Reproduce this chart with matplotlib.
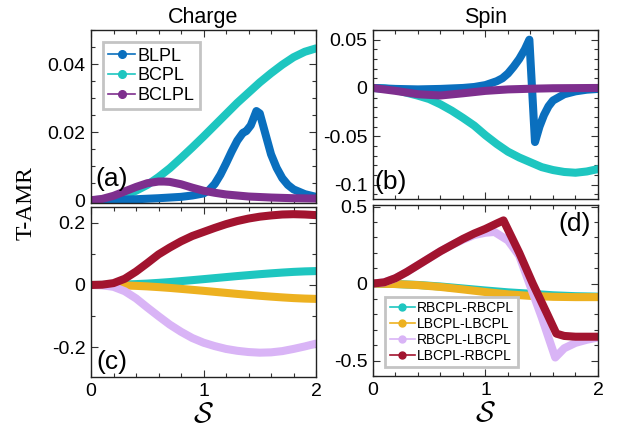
import numpy as np
import matplotlib
matplotlib.use("Agg")
import matplotlib.pyplot as plt
from matplotlib.lines import Line2D
from matplotlib.ticker import MultipleLocator, FixedLocator, FixedFormatter

plt.rcParams['font.family'] = ['Liberation Sans', 'DejaVu Sans']
plt.rcParams['axes.unicode_minus'] = False
plt.rcParams['mathtext.fontset'] = 'cm'

#########################################
# data
#########################################

# (a) charge
s_blpl_a = [0, 0.2, 0.4, 0.6, 0.8, 0.9, 1.0, 1.05, 1.1, 1.15, 1.2, 1.25, 1.3, 1.35, 1.38,
            1.42, 1.45, 1.47, 1.5, 1.55, 1.6, 1.65, 1.7, 1.75, 1.8, 1.9, 2.0]
blpl_a = [0, 0.0001, 0.0003, 0.0006, 0.0010, 0.0014, 0.002, 0.003, 0.0048, 0.0075, 0.0108,
          0.0143, 0.0175, 0.0198, 0.0203, 0.022, 0.0245, 0.0262, 0.0255, 0.0195, 0.0135,
          0.0095, 0.0065, 0.0045, 0.0032, 0.0018, 0.001]

s_bcpl_a = [0, 0.1, 0.2, 0.3, 0.4, 0.5, 0.6, 0.7, 0.8, 0.9, 1.0, 1.1, 1.2, 1.3, 1.4, 1.5,
            1.6, 1.7, 1.8, 1.9, 2.0]
bcpl_a = [0, 0.0002, 0.0007, 0.0015, 0.0028, 0.0045, 0.0068, 0.0094, 0.0124, 0.0155, 0.0187,
          0.022, 0.0253, 0.0286, 0.0316, 0.0346, 0.0373, 0.0398, 0.042, 0.0436, 0.0446]

s_bclpl_a = [0, 0.1, 0.2, 0.3, 0.4, 0.5, 0.6, 0.65, 0.7, 0.8, 0.9, 1.0, 1.1, 1.2, 1.4, 1.6,
             1.8, 2.0]
bclpl_a = [0, 0.0004, 0.0013, 0.0026, 0.0039, 0.0050, 0.0055, 0.0055, 0.0054, 0.0047, 0.0037,
           0.0028, 0.0022, 0.0017, 0.0011, 0.0008, 0.0006, 0.0005]

# (b) spin
s_blpl_b = [0, 0.2, 0.4, 0.6, 0.8, 0.9, 1.0, 1.1, 1.15, 1.2, 1.25, 1.3, 1.35, 1.39, 1.44,
            1.48, 1.52, 1.56, 1.6, 1.7, 1.8, 1.9, 2.0]
blpl_b = [0, -0.001, -0.0015, -0.001, 0.0, 0.001, 0.003, 0.007, 0.010, 0.015, 0.022, 0.030,
          0.040, 0.050, -0.056, -0.040, -0.028, -0.019, -0.013, -0.0065, -0.0035, -0.0018, -0.001]

s_bcpl_b = [0, 0.1, 0.2, 0.3, 0.4, 0.5, 0.6, 0.7, 0.8, 0.9, 1.0, 1.1, 1.2, 1.3, 1.4, 1.5,
            1.6, 1.7, 1.8, 1.9, 2.0]
bcpl_b = [0, -0.0005, -0.002, -0.005, -0.008, -0.0115, -0.017, -0.0235, -0.031, -0.039,
          -0.049, -0.058, -0.066, -0.072, -0.077, -0.082, -0.085, -0.087, -0.0878, -0.0865, -0.084]

s_bclpl_b = [0, 0.2, 0.4, 0.6, 0.8, 1.0, 1.2, 1.4, 1.6, 2.0]
bclpl_b = [0, -0.003, -0.0065, -0.0078, -0.0055, -0.003, -0.0015, -0.0008, -0.0003, 0]

# (c) charge, circular pairs
s_c = [0, 0.1, 0.2, 0.3, 0.4, 0.5, 0.6, 0.7, 0.8, 0.9, 1.0, 1.1, 1.2, 1.3, 1.4, 1.5, 1.6,
       1.7, 1.8, 1.9, 2.0]
rr_c = [0, 0.0002, 0.0007, 0.0015, 0.0028, 0.0045, 0.0068, 0.0094, 0.0124, 0.0155, 0.0187,
        0.022, 0.0253, 0.0286, 0.0316, 0.0346, 0.0373, 0.0398, 0.042, 0.0436, 0.0446]
ll_c = [0, -0.0002, -0.0007, -0.0015, -0.0028, -0.0045, -0.0068, -0.0094, -0.0124, -0.0155,
        -0.0187, -0.022, -0.0253, -0.0286, -0.0316, -0.0346, -0.0373, -0.0398, -0.042,
        -0.0436, -0.0446]
rl_c = [0, -0.001, -0.006, -0.02, -0.043, -0.072, -0.1, -0.127, -0.15, -0.17, -0.185, -0.196,
        -0.205, -0.211, -0.215, -0.217, -0.216, -0.212, -0.205, -0.197, -0.188]
lr_c = [0, 0.001, 0.006, 0.02, 0.043, 0.07, 0.098, 0.12, 0.14, 0.157, 0.17, 0.183, 0.195,
        0.205, 0.213, 0.219, 0.223, 0.226, 0.227, 0.226, 0.224]

# (d) spin, circular pairs
s_d = [0, 0.2, 0.4, 0.6, 0.8, 1.0, 1.2, 1.4, 1.6, 1.8, 2.0]
rr_d = [0, -0.003, -0.009, -0.019, -0.032, -0.045, -0.057, -0.066, -0.076, -0.082, -0.085]
ll_d = [0, -0.003, -0.01, -0.022, -0.038, -0.055, -0.07, -0.08, -0.086, -0.088, -0.088]
s_rl_d = [0, 0.1, 0.2, 0.3, 0.4, 0.5, 0.6, 0.7, 0.8, 0.9, 1.0, 1.08, 1.2, 1.3, 1.4, 1.5,
          1.62, 1.7, 1.8, 1.9, 2.0]
rl_d = [0, 0.008, 0.035, 0.075, 0.12, 0.165, 0.21, 0.25, 0.285, 0.315, 0.33, 0.335, 0.28,
        0.18, -0.02, -0.22, -0.48, -0.42, -0.385, -0.365, -0.35]
s_lr_d = [0, 0.1, 0.2, 0.3, 0.4, 0.5, 0.6, 0.7, 0.8, 0.9, 1.0, 1.1, 1.16, 1.3, 1.42, 1.55,
          1.63, 1.7, 1.8, 1.9, 2.0]
lr_d = [0, 0.008, 0.035, 0.075, 0.12, 0.165, 0.21, 0.25, 0.29, 0.325, 0.355, 0.39, 0.41,
        0.2, 0.0, -0.2, -0.325, -0.34, -0.345, -0.345, -0.345]

labels_top = ['BLPL', 'BCPL', 'BCLPL']
labels_bot = ['RBCPL-RBCPL', 'LBCPL-LBCPL', 'RBCPL-LBCPL', 'LBCPL-RBCPL']

c_blue = '#0A6FBE'
c_cyan = '#1EC6C0'
c_purp = '#7E2F8E'
c_orng = '#EDB120'
c_lila = '#D9B4F6'
c_red = '#A2142F'

lw = 5.8

fig = plt.figure(figsize=(6.17, 4.37), dpi=100)
axA = fig.add_axes([0.1475, 0.5355, 0.3647, 0.3959])
axB = fig.add_axes([0.6045, 0.5446, 0.3647, 0.3867])
axC = fig.add_axes([0.1475, 0.1373, 0.3647, 0.3890])
axD = fig.add_axes([0.6045, 0.1396, 0.3647, 0.3913])


def line(ax, x, y, c):
    ax.plot(x, y, color=c, lw=lw, solid_capstyle='round', solid_joinstyle='round')


line(axA, s_bcpl_a, bcpl_a, c_cyan)
line(axA, s_blpl_a, blpl_a, c_blue)
line(axA, s_bclpl_a, bclpl_a, c_purp)

line(axB, s_bcpl_b, bcpl_b, c_cyan)
line(axB, s_blpl_b, blpl_b, c_blue)
line(axB, s_bclpl_b, bclpl_b, c_purp)

line(axC, s_c, rr_c, c_cyan)
line(axC, s_c, ll_c, c_orng)
line(axC, s_c, rl_c, c_lila)
line(axC, s_c, lr_c, c_red)

line(axD, s_d, rr_d, c_cyan)
line(axD, s_d, ll_d, c_orng)
line(axD, s_rl_d, rl_d, c_lila)
line(axD, s_lr_d, lr_d, c_red)

# axes setup
yset = [
    (axA, (-0.0008, 0.05), [0, 0.02, 0.04], ['0', '0.02', '0.04'], 0.005),
    (axB, (-0.115, 0.06), [-0.1, -0.05, 0, 0.05], ['-0.1', '-0.05', '0', '0.05'], 0.01),
    (axC, (-0.295, 0.25), [-0.2, 0, 0.2], ['-0.2', '0', '0.2'], 0.1),
    (axD, (-0.6, 0.51), [-0.5, 0, 0.5], ['-0.5', '0', '0.5'], 0.1),
]
for ax, lim, tk, tl, mn in yset:
    ax.set_xlim(0, 2)
    ax.set_ylim(*lim)
    ax.yaxis.set_major_locator(FixedLocator(tk))
    ax.yaxis.set_major_formatter(FixedFormatter(tl))
    ax.yaxis.set_minor_locator(MultipleLocator(mn))
    ax.xaxis.set_major_locator(FixedLocator([0, 1, 2]))
    ax.xaxis.set_major_formatter(FixedFormatter(['0', '1', '2']))
    ax.xaxis.set_minor_locator(MultipleLocator(0.2))
    ax.tick_params(which='both', direction='in', top=True, right=True, labelsize=14,
                   width=0.8, color='#333333')
    ax.tick_params(which='major', length=5, pad=4)
    ax.tick_params(which='minor', length=3)
    for sp in ax.spines.values():
        sp.set_linewidth(1.0)
        sp.set_color('#222222')

for ax in (axA, axB):
    ax.tick_params(labelbottom=False)

axA.set_title('Charge', fontsize=15.5, pad=5)
axB.set_title('Spin', fontsize=15.5, pad=5)
axC.set_xlabel(r'$\mathcal{S}$', fontsize=21, labelpad=0)
axD.set_xlabel(r'$\mathcal{S}$', fontsize=21, labelpad=0)
fig.text(0.042, 0.535, 'T-AMR', rotation=90, family='Liberation Serif', fontsize=17,
         ha='center', va='center')

axA.text(0.02, 0.07, '(a)', transform=axA.transAxes, fontsize=19, va='bottom', ha='left')
axB.text(0.005, 0.03, '(b)', transform=axB.transAxes, fontsize=19, va='bottom', ha='left')
axC.text(0.025, 0.02, '(c)', transform=axC.transAxes, fontsize=19, va='bottom', ha='left')
axD.text(0.97, 0.96, '(d)', transform=axD.transAxes, fontsize=19, va='top', ha='right')

# legends: thin line with a dot, as in the original
h_top = [Line2D([], [], color=c, lw=1.2, marker='o', ms=5.5) for c in (c_blue, c_cyan, c_purp)]
legA = axA.legend(h_top, labels_top, loc='upper left', bbox_to_anchor=(0.053, 0.93),
                  fontsize=13, handlelength=1.5, handletextpad=0.1, labelspacing=0.15,
                  borderpad=0.3, borderaxespad=0, fancybox=False, framealpha=1)
legA.get_frame().set_edgecolor('#c4c4c4')
legA.get_frame().set_linewidth(2)

h_bot = [Line2D([], [], color=c, lw=1.2, marker='o', ms=5)
         for c in (c_cyan, c_orng, c_lila, c_red)]
legD = axD.legend(h_bot, labels_bot, loc='lower left', bbox_to_anchor=(0.055, 0.05),
                  fontsize=10, handlelength=1.8, handletextpad=0.15, labelspacing=0.15,
                  borderpad=0.3, borderaxespad=0, fancybox=False, framealpha=1)
legD.get_frame().set_edgecolor('#c4c4c4')
legD.get_frame().set_linewidth(2)

plt.savefig('out.png', dpi=100)
